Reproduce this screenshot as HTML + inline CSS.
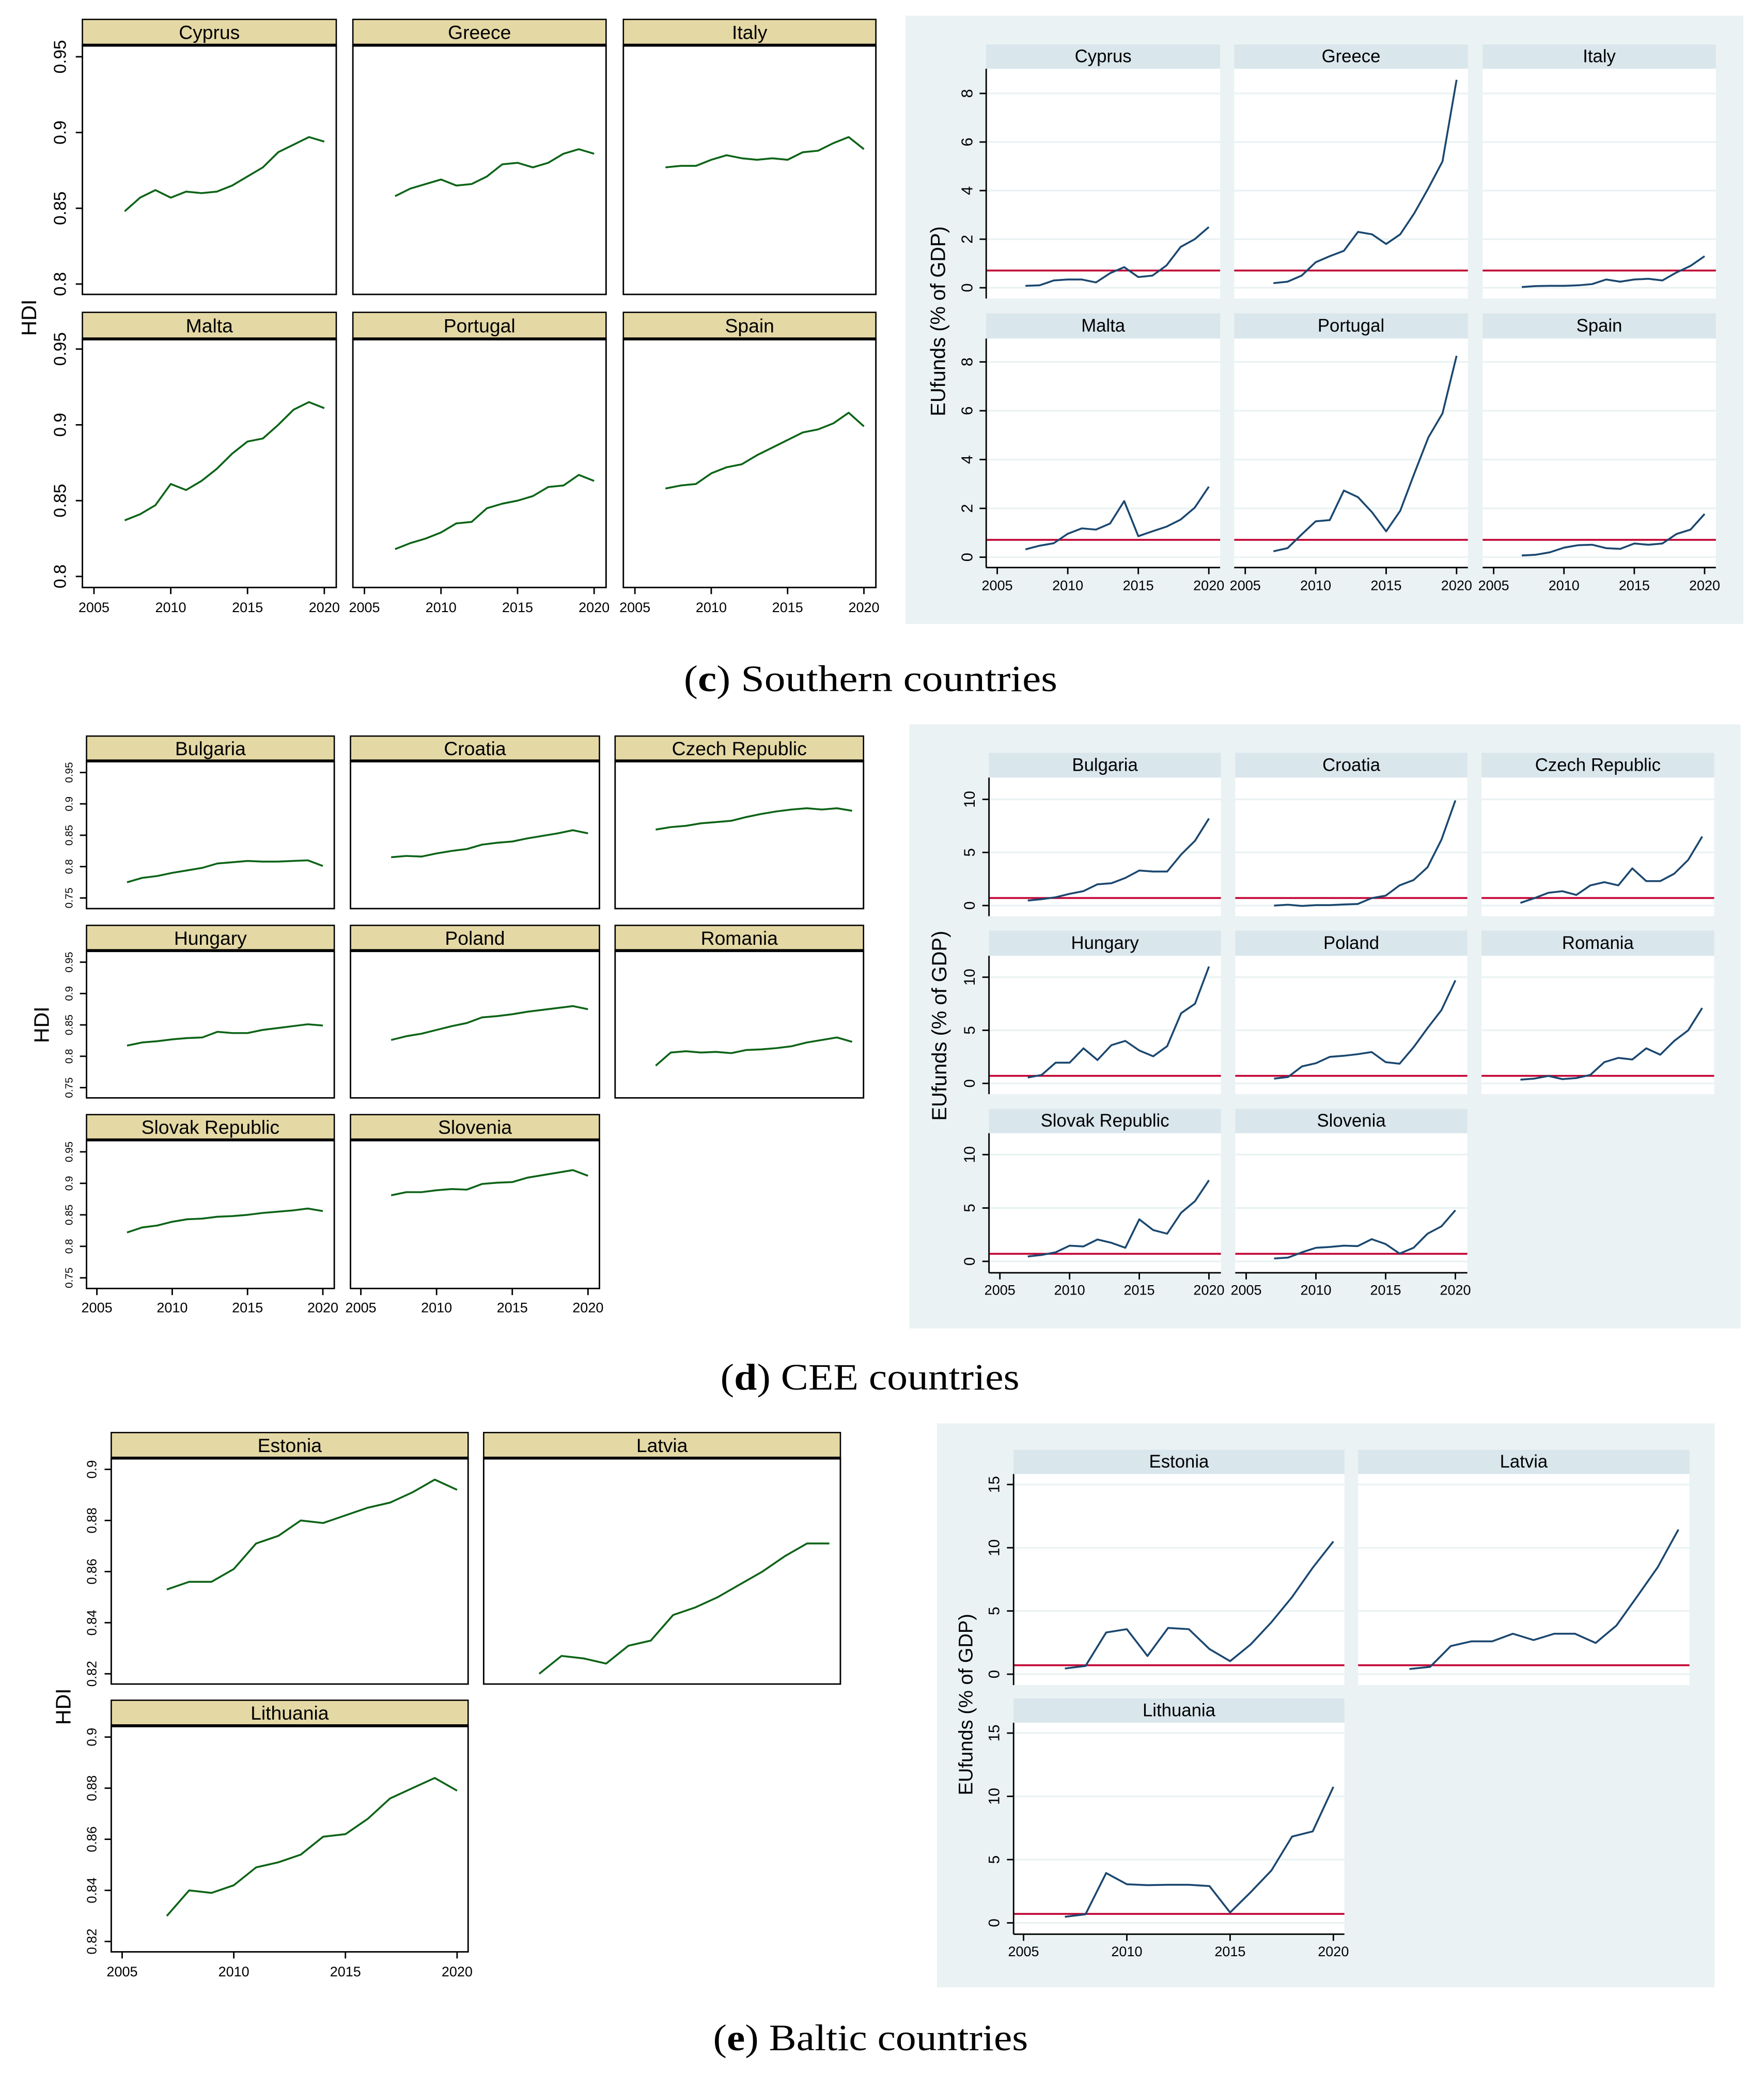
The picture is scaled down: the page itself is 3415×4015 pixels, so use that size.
<!DOCTYPE html>
<html>
<head>
<meta charset="utf-8">
<style>
html,body{margin:0;padding:0;background:#fff;}
svg{display:block;}
text{font-family:"Liberation Sans",Arial,sans-serif;fill:#000;}
.cap{font-family:"Liberation Serif",serif;}
</style>
</head>
<body>
<svg id="fig" width="3415" height="4015" viewBox="0 0 1327.2 1560.4" preserveAspectRatio="none" xmlns="http://www.w3.org/2000/svg">
<rect x="0" y="0" width="1327.2" height="1560.4" fill="#fff"/>
<text class="cap" x="655" y="520" font-size="28" text-anchor="middle" textLength="281" lengthAdjust="spacingAndGlyphs">(<tspan font-weight="bold">c</tspan>) Southern countries</text>
<text class="cap" x="654.5" y="1045.5" font-size="28" text-anchor="middle" textLength="225" lengthAdjust="spacingAndGlyphs">(<tspan font-weight="bold">d</tspan>) CEE countries</text>
<text class="cap" x="655" y="1542.5" font-size="28" text-anchor="middle" textLength="237" lengthAdjust="spacingAndGlyphs">(<tspan font-weight="bold">e</tspan>) Baltic countries</text>
</svg>
<script>
// ---------- data ----------
const years = [2007,2008,2009,2010,2011,2012,2013,2014,2015,2016,2017,2018,2019,2020];
const xTickYears = [2005,2010,2015,2020];
const xTickLabels = ["2005","2010","2015","2020"];

// Southern HDI
const hdiCyprus   = [0.848,0.857,0.862,0.857,0.861,0.860,0.861,0.865,0.871,0.877,0.887,0.892,0.897,0.894];
const hdiGreece   = [0.858,0.863,0.866,0.869,0.865,0.866,0.871,0.879,0.880,0.877,0.880,0.886,0.889,0.886];
const hdiItaly    = [0.877,0.878,0.878,0.882,0.885,0.883,0.882,0.883,0.882,0.887,0.888,0.893,0.897,0.889];
const hdiMalta    = [0.837,0.841,0.847,0.861,0.857,0.863,0.871,0.881,0.889,0.891,0.900,0.910,0.915,0.911];
const hdiPortugal = [0.818,0.822,0.825,0.829,0.835,0.836,0.845,0.848,0.850,0.853,0.859,0.860,0.867,0.863];
const hdiSpain    = [0.858,0.860,0.861,0.868,0.872,0.874,0.880,0.885,0.890,0.895,0.897,0.901,0.908,0.899];
// Southern EU funds
const euCyprus   = [0.08,0.10,0.30,0.34,0.34,0.22,0.60,0.85,0.44,0.50,0.92,1.68,2.00,2.50];
const euGreece   = [0.19,0.25,0.50,1.05,1.30,1.52,2.30,2.20,1.80,2.20,3.07,4.10,5.20,8.56];
const euItaly    = [0.03,0.07,0.08,0.08,0.10,0.15,0.34,0.25,0.34,0.37,0.30,0.63,0.90,1.30];
const euMalta    = [0.32,0.47,0.57,0.96,1.18,1.13,1.38,2.30,0.86,1.06,1.25,1.54,2.03,2.89];
const euPortugal = [0.24,0.37,0.93,1.47,1.52,2.73,2.46,1.84,1.06,1.90,3.43,4.91,5.89,8.25];
const euSpain    = [0.07,0.10,0.20,0.39,0.49,0.51,0.37,0.34,0.56,0.51,0.56,0.95,1.13,1.77];
// CEE HDI
const hdiBulgaria = [0.775,0.782,0.785,0.790,0.794,0.798,0.805,0.807,0.809,0.808,0.808,0.809,0.810,0.801];
const hdiCroatia  = [0.815,0.817,0.816,0.821,0.825,0.828,0.835,0.838,0.840,0.845,0.849,0.853,0.858,0.853];
const hdiCzech    = [0.859,0.863,0.865,0.869,0.871,0.873,0.879,0.884,0.888,0.891,0.893,0.891,0.893,0.889];
const hdiHungary  = [0.817,0.822,0.824,0.827,0.829,0.830,0.839,0.837,0.837,0.842,0.845,0.848,0.851,0.849];
const hdiPoland   = [0.826,0.832,0.836,0.842,0.848,0.853,0.862,0.864,0.867,0.871,0.874,0.877,0.880,0.875];
const hdiRomania  = [0.785,0.806,0.808,0.806,0.807,0.805,0.810,0.811,0.813,0.816,0.822,0.826,0.830,0.823];
const hdiSlovak   = [0.822,0.830,0.833,0.839,0.843,0.844,0.847,0.848,0.850,0.853,0.855,0.857,0.860,0.856];
const hdiSlovenia = [0.881,0.886,0.886,0.889,0.891,0.890,0.899,0.901,0.902,0.909,0.913,0.917,0.921,0.912];
// CEE EU funds
const euBulgaria = [0.47,0.60,0.78,1.10,1.36,2.00,2.10,2.60,3.30,3.20,3.20,4.80,6.10,8.20];
const euCroatia  = [0.00,0.08,-0.04,0.04,0.04,0.10,0.15,0.70,0.93,1.90,2.40,3.60,6.20,9.90];
const euCzech    = [0.25,0.70,1.20,1.35,1.00,1.90,2.20,1.90,3.50,2.30,2.30,3.00,4.30,6.50];
const euHungary  = [0.55,0.80,1.95,1.95,3.30,2.20,3.60,4.00,3.10,2.55,3.50,6.60,7.50,11.00];
const euPoland   = [0.45,0.60,1.60,1.90,2.50,2.60,2.75,2.95,2.00,1.85,3.40,5.20,6.90,9.70];
const euRomania  = [0.35,0.45,0.70,0.40,0.50,0.80,2.00,2.40,2.25,3.30,2.70,4.00,5.00,7.10];
const euSlovak   = [0.46,0.60,0.85,1.47,1.40,2.05,1.74,1.27,3.94,2.93,2.59,4.55,5.64,7.60];
const euSlovenia = [0.27,0.35,0.85,1.27,1.35,1.47,1.43,2.08,1.62,0.73,1.27,2.59,3.28,4.79];
// Baltic HDI
const hdiEstonia   = [0.853,0.856,0.856,0.861,0.871,0.874,0.880,0.879,0.882,0.885,0.887,0.891,0.896,0.892];
const hdiLatvia    = [0.820,0.827,0.826,0.824,0.831,0.833,0.843,0.846,0.850,0.855,0.860,0.866,0.871,0.871];
const hdiLithuania = [0.830,0.840,0.839,0.842,0.849,0.851,0.854,0.861,0.862,0.868,0.876,0.880,0.884,0.879];
// Baltic EU funds
const euEstonia   = [0.45,0.65,3.30,3.56,1.44,3.66,3.56,1.99,1.03,2.36,4.11,6.10,8.42,10.50];
const euLatvia    = [0.41,0.58,2.23,2.60,2.60,3.20,2.70,3.20,3.20,2.47,3.84,6.13,8.46,11.44];
const euLithuania = [0.48,0.68,3.94,3.05,2.98,3.01,3.01,2.91,0.82,2.43,4.14,6.82,7.23,10.75];

const euThreshold = [0.71];

const hdiTicksC = [0.8,0.85,0.9,0.95];
const hdiTickLabelsC = ["0.8","0.85","0.9","0.95"];
const hdiTicksD = [0.75,0.8,0.85,0.9,0.95];
const hdiTickLabelsD = ["0.75","0.8","0.85","0.9","0.95"];
const hdiTicksE = [0.82,0.84,0.86,0.88,0.9];
const hdiTickLabelsE = ["0.82","0.84","0.86","0.88","0.9"];
const euTicksC = [0,2,4,6,8];
const euTickLabelsC = ["0","2","4","6","8"];
const euTicksD = [0,5,10];
const euTickLabelsD = ["0","5","10"];
const euTicksE = [0,5,10,15];
const euTickLabelsE = ["0","5","10","15"];

// ---------- drawing ----------
const NS = "http://www.w3.org/2000/svg";
const svg = document.getElementById('fig');
function mk(tag, attrs, parent){
  const e = document.createElementNS(NS, tag);
  for (const k in attrs) e.setAttribute(k, attrs[k]);
  (parent || svg).appendChild(e);
  return e;
}
function linScale(v1,p1,v2,p2){ return v => p1 + (v - v1) * (p2 - p1) / (v2 - v1); }

function drawSection(sec){
  const g = mk('g', {});
  
  
  if (sec.bg){
    const bg = mk('rect', {x:sec.bg[0], y:sec.bg[1], width:sec.bg[2]-sec.bg[0], height:sec.bg[3]-sec.bg[1], fill:'#eaf2f3'}, g);
    
    
  }
  sec.panels.forEach(p => {
    const col = sec.cols[p.col], row = sec.rows[p.row];
    const L = col[0], R = col[1];
    const pg = mk('g', {}, g);
    
    
    const ys = linScale(row.v1, row.p1, row.v2, row.p2);
    const xs = linScale(2005, L + sec.pad[0], 2020, R - sec.pad[1]);
    // header
    const hd = mk('rect', {x:L, y:row.h, width:R-L, height:row.t-row.h,
      fill: sec.hdi ? '#e4d8a5' : '#d9e6ec', stroke: sec.hdi ? '#000' : 'none', 'stroke-width':1}, pg);
    
    
    const ht = mk('text', {x:(L+R)/2, y:(row.h+row.t)/2, 'font-size':sec.titleSize, 'text-anchor':'middle', 'dominant-baseline':'central'}, pg);
    ht.textContent = p.title;
    
    
    // plot area
    const pr = mk('rect', {x:L, y:row.t, width:R-L, height:row.b-row.t, fill:'#fff',
      stroke: sec.hdi ? '#000' : 'none', 'stroke-width':1.1}, pg);
    
    
    if (sec.hdi){
      const tl = mk('line', {x1:L, x2:R, y1:row.t, y2:row.t, stroke:'#000', 'stroke-width':2.2}, pg);
      
      
    } else {
      sec.ticks.forEach(v => {
        const gl = mk('line', {x1:L, x2:R, y1:ys(v), y2:ys(v), stroke:'#eaf2f3', 'stroke-width':1.3}, pg);
        
        
      });
      const rl = mk('line', {x1:L, x2:R, y1:ys(euThreshold[0]), y2:ys(euThreshold[0]), stroke:'#c10534', 'stroke-width':1.4}, pg);
      
      
    }
    // series
    const pts = years.map((yr,i) => xs(yr).toFixed(2) + ',' + ys(p.data[i]).toFixed(2)).join(' ');
    const pl = mk('polyline', {points:pts, fill:'none', stroke: sec.hdi ? '#0b6316' : '#1a476f', 'stroke-width':1.4, 'stroke-linejoin':'round'}, pg);
    
    
    // y axis
    if (p.col === 0){
      if (!sec.hdi){
        const al = mk('line', {x1:L, x2:L, y1:row.t, y2:row.b, stroke:'#000', 'stroke-width':1.1}, pg);
        
        
      }
      sec.ticks.forEach((v,i) => {
        const y = ys(v);
        const tk = mk('line', {x1:L-5, x2:L, y1:y, y2:y, stroke:'#000', 'stroke-width':1.1}, pg);
        
        
        const lx = L - sec.yLabOff;
        const tt = mk('text', {x:lx, y:y, 'font-size':sec.yTickSize, 'text-anchor':'middle', 'dominant-baseline':'central', transform:'rotate(-90 '+lx+' '+y+')'}, pg);
        tt.textContent = sec.tickLabels[i];
        
        
      });
    }
    // x axis
    if (p.xaxis){
      if (!sec.hdi){
        const xl = mk('line', {x1:L, x2:R, y1:row.b, y2:row.b, stroke:'#000', 'stroke-width':1.1}, pg);
        
        
      }
      xTickYears.forEach((yr,i) => {
        const x = xs(yr);
        const tk = mk('line', {x1:x, x2:x, y1:row.b, y2:row.b+5, stroke:'#000', 'stroke-width':1.1}, pg);
        
        
        const tt = mk('text', {x:x, y:row.b + sec.xLabOff, 'font-size':10.5, 'text-anchor':'middle', 'dominant-baseline':'central'}, pg);
        tt.textContent = xTickLabels[i];
        
        
      });
    }
  });
  const at = mk('text', {x:sec.axisTitle[0], y:sec.axisTitle[1], 'font-size':sec.axisTitle[2], 'text-anchor':'middle', 'dominant-baseline':'central',
    transform:'rotate(-90 '+sec.axisTitle[0]+' '+sec.axisTitle[1]+')'}, g);
  at.textContent = sec.hdi ? 'HDI' : 'EUfunds (% of GDP)';
  
  
}

const sections = [
 {name:'southern-hdi-chart', hdi:true, titleSize:14.5, yTickSize:13, yLabOff:16.5, xLabOff:15,
  cols:[[62,253],[265.5,456],[469,659]], pad:[8.7,9],
  rows:[{h:14.6,t:34,b:221.5,v1:0.95,p1:42.7,v2:0.8,p2:213.7},{h:235,t:255,b:442,v1:0.95,p1:262.6,v2:0.8,p2:433.7}],
  ticks:hdiTicksC, tickLabels:hdiTickLabelsC, axisTitle:[21.7,239,16],
  panels:[{title:'Cyprus',data:hdiCyprus,row:0,col:0},{title:'Greece',data:hdiGreece,row:0,col:1},{title:'Italy',data:hdiItaly,row:0,col:2},
          {title:'Malta',data:hdiMalta,row:1,col:0,xaxis:true},{title:'Portugal',data:hdiPortugal,row:1,col:1,xaxis:true},{title:'Spain',data:hdiSpain,row:1,col:2,xaxis:true}]},
 {name:'southern-eufunds-chart', hdi:false, titleSize:13.5, yTickSize:12, yLabOff:14.4, xLabOff:13.6, bg:[681.3,11.8,1311.7,469.4],
  cols:[[742,918],[928.6,1104.4],[1115.5,1291]], pad:[8.3,8.5],
  rows:[{h:33.5,t:51.7,b:224.6,v1:8,p1:70.3,v2:0,p2:216.5},{h:235.8,t:254.7,b:427,v1:8,p1:272.3,v2:0,p2:419.2}],
  ticks:euTicksC, tickLabels:euTickLabelsC, axisTitle:[706,241.7,15.5],
  panels:[{title:'Cyprus',data:euCyprus,row:0,col:0},{title:'Greece',data:euGreece,row:0,col:1},{title:'Italy',data:euItaly,row:0,col:2},
          {title:'Malta',data:euMalta,row:1,col:0,xaxis:true},{title:'Portugal',data:euPortugal,row:1,col:1,xaxis:true},{title:'Spain',data:euSpain,row:1,col:2,xaxis:true}]},
 {name:'cee-hdi-chart', hdi:true, titleSize:14.5, yTickSize:8, yLabOff:13, xLabOff:14.5,
  cols:[[65.1,251.5],[263.7,451],[462.8,649.7]], pad:[7.8,8.6],
  rows:[{h:553.8,t:572.5,b:683.6,v1:0.95,p1:581.2,v2:0.75,p2:675.6},{h:696.2,t:715.2,b:826,v1:0.95,p1:723.9,v2:0.75,p2:818.3},{h:838.6,t:857.6,b:969.4,v1:0.95,p1:866.6,v2:0.75,p2:961.4}],
  ticks:hdiTicksD, tickLabels:hdiTickLabelsD, axisTitle:[31.2,771,16],
  panels:[{title:'Bulgaria',data:hdiBulgaria,row:0,col:0},{title:'Croatia',data:hdiCroatia,row:0,col:1},{title:'Czech Republic',data:hdiCzech,row:0,col:2},
          {title:'Hungary',data:hdiHungary,row:1,col:0},{title:'Poland',data:hdiPoland,row:1,col:1},{title:'Romania',data:hdiRomania,row:1,col:2},
          {title:'Slovak Republic',data:hdiSlovak,row:2,col:0,xaxis:true},{title:'Slovenia',data:hdiSlovenia,row:2,col:1,xaxis:true}]},
 {name:'cee-eufunds-chart', hdi:false, titleSize:13.5, yTickSize:11.5, yLabOff:14.5, xLabOff:13, bg:[684.2,545,1309.5,999.5],
  cols:[[744.1,918.6],[929.4,1104],[1114.7,1289.7]], pad:[8.2,9],
  rows:[{h:566.4,t:585,b:689.3,v1:10,p1:601.4,v2:0,p2:681.3},{h:700.2,t:719.1,b:823.2,v1:10,p1:735.2,v2:0,p2:815.1},{h:834.3,t:852.6,b:957.6,v1:10,p1:868.7,v2:0,p2:949}],
  ticks:euTicksD, tickLabels:euTickLabelsD, axisTitle:[707,771.7,15.5],
  panels:[{title:'Bulgaria',data:euBulgaria,row:0,col:0},{title:'Croatia',data:euCroatia,row:0,col:1},{title:'Czech Republic',data:euCzech,row:0,col:2},
          {title:'Hungary',data:euHungary,row:1,col:0},{title:'Poland',data:euPoland,row:1,col:1},{title:'Romania',data:euRomania,row:1,col:2},
          {title:'Slovak Republic',data:euSlovak,row:2,col:0,xaxis:true},{title:'Slovenia',data:euSlovenia,row:2,col:1,xaxis:true}]},
 {name:'baltic-hdi-chart', hdi:true, titleSize:14.5, yTickSize:10, yLabOff:14.3, xLabOff:15,
  cols:[[83.7,352.2],[363.9,632.3]], pad:[8.2,8.3],
  rows:[{h:1077.8,t:1097,b:1267,v1:0.9,p1:1105.5,v2:0.82,p2:1259.3},{h:1279.2,t:1298.4,b:1468.5,v1:0.9,p1:1306.9,v2:0.82,p2:1460.7}],
  ticks:hdiTicksE, tickLabels:hdiTickLabelsE, axisTitle:[47.7,1284,16],
  panels:[{title:'Estonia',data:hdiEstonia,row:0,col:0},{title:'Latvia',data:hdiLatvia,row:0,col:1},
          {title:'Lithuania',data:hdiLithuania,row:1,col:0,xaxis:true}]},
 {name:'baltic-eufunds-chart', hdi:false, titleSize:13.5, yTickSize:11.5, yLabOff:14.4, xLabOff:13, bg:[704.9,1070.9,1290,1495.2],
  cols:[[762.6,1011.5],[1021.8,1271.1]], pad:[7.5,8.3],
  rows:[{h:1090.8,t:1109,b:1267.8,v1:15,p1:1116.9,v2:0,p2:1259.6},{h:1277.9,t:1296.1,b:1455.2,v1:15,p1:1303.9,v2:0,p2:1446.7}],
  ticks:euTicksE, tickLabels:euTickLabelsE, axisTitle:[727,1282.4,14.8],
  panels:[{title:'Estonia',data:euEstonia,row:0,col:0},{title:'Latvia',data:euLatvia,row:0,col:1},
          {title:'Lithuania',data:euLithuania,row:1,col:0,xaxis:true}]}
];
sections.forEach(drawSection);
</script>
</body>
</html>
